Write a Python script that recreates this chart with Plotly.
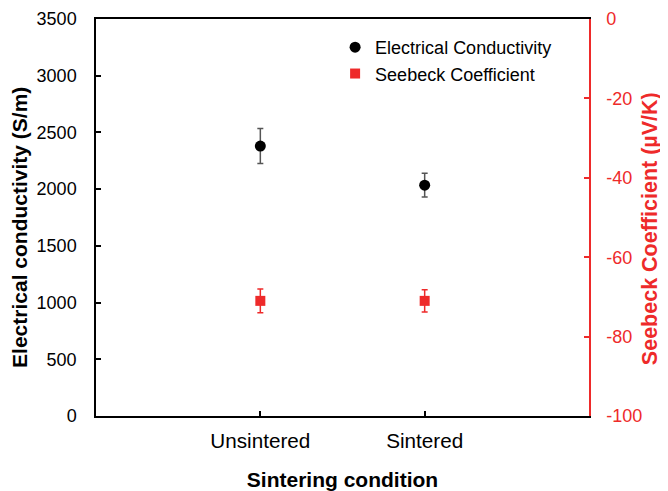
import plotly.graph_objects as go

categories = ["Unsintered", "Sintered"]
conductivity = [2380, 2035]
conductivity_err = [155, 105]
seebeck = [-71, -71]
seebeck_err = [3, 2.8]
seebeck_ticks = [0, -20, -40, -60, -80, -100]

RED = "#EE2A2A"
FONT = "Liberation Sans, Arial, sans-serif"

fig = go.Figure()
fig.add_trace(go.Scatter(
    x=categories, y=conductivity, mode="markers", name="Electrical Conductivity",
    legendgroup="a",
    marker=dict(symbol="circle", size=11, color="black"),
    error_y=dict(type="data", array=conductivity_err, color="#555555", thickness=1.5, width=3),
    yaxis="y",
))
fig.add_trace(go.Scatter(
    x=categories, y=seebeck, mode="markers", name="Seebeck Coefficient",
    legendgroup="b",
    marker=dict(symbol="square", size=10, color=RED),
    error_y=dict(type="data", array=seebeck_err, color=RED, thickness=1.5, width=3),
    yaxis="y2",
))

fig.update_layout(
    width=660, height=483,
    margin=dict(l=88, r=79, t=11, b=75, autoexpand=False),
    paper_bgcolor="white", plot_bgcolor="white",
    font=dict(family=FONT, color="black", size=18),
    showlegend=True,
    legend=dict(x=0.485, y=0.975, xanchor="left", yanchor="top",
                font=dict(size=18, family=FONT), bgcolor="rgba(0,0,0,0)",
                tracegroupgap=0, itemwidth=30),
    xaxis=dict(
        type="category", range=[-1, 2], showgrid=False, zeroline=False, automargin=False,
        showline=True, linecolor="black", linewidth=1.5, mirror=True,
        ticks="inside", ticklen=5, tickcolor="black", tickwidth=1.5,
        tickfont=dict(size=20.7, family=FONT), ticklabelstandoff=5,
        title=dict(text="<b>Sintering condition</b>", font=dict(size=21, family=FONT), standoff=24),
    ),
    yaxis=dict(
        range=[0, 3500], dtick=500, showgrid=False, zeroline=False, automargin=False,
        showline=True, linecolor="black", linewidth=1.5,
        ticks="inside", ticklen=5, tickcolor="black", tickwidth=1.5,
        tickfont=dict(size=18, family=FONT), ticklabelstandoff=14,
    ),
    yaxis2=dict(
        range=[-100, 0], tickvals=seebeck_ticks, ticktext=[str(v) for v in seebeck_ticks],
        overlaying="y", side="right", automargin=False,
        showgrid=False, zeroline=False,
        showline=True, linecolor=RED, linewidth=1.5,
        ticks="inside", ticklen=5, tickcolor=RED, tickwidth=1.5,
        tickfont=dict(size=18, family=FONT, color=RED), ticklabelstandoff=12,
    ),
    annotations=[
        dict(text="<b>Electrical conductivity (S/m)</b>", textangle=-90,
             xref="paper", yref="paper", x=-0.154, y=0.474,
             xanchor="center", yanchor="middle", showarrow=False,
             font=dict(size=21, family=FONT, color="black")),
        dict(text="<b>Seebeck Coefficient (µV/K)</b>", textangle=-90,
             xref="paper", yref="paper", x=1.124, y=0.471,
             xanchor="center", yanchor="middle", showarrow=False,
             font=dict(size=21.5, family=FONT, color=RED)),
    ],
)

fig.write_html("out.html")
